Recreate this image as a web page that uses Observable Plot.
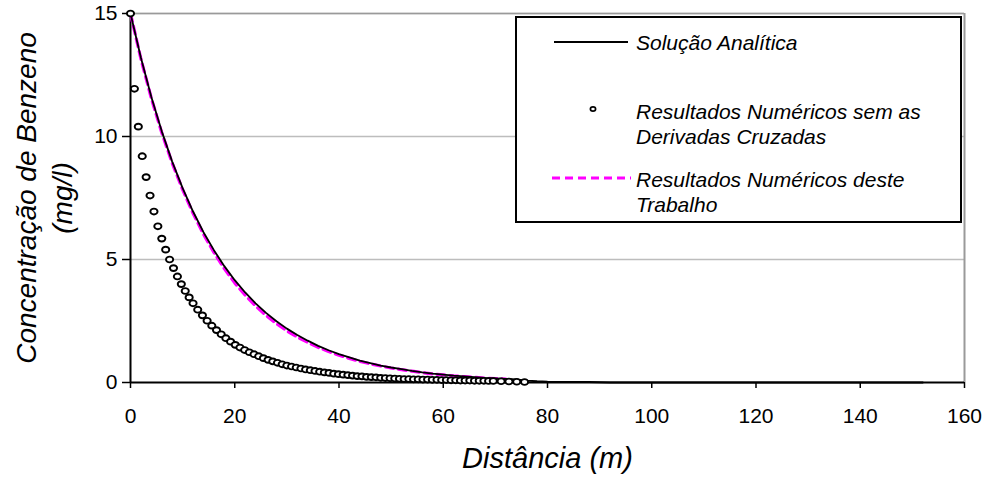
<!DOCTYPE html>
<html>
<head>
<meta charset="utf-8">
<script src="https://cdn.jsdelivr.net/npm/d3@7"></script>
<script src="https://cdn.jsdelivr.net/npm/@observablehq/plot@0.6"></script>
<style>
  html, body { margin: 0; padding: 0; background: #fff; }
  #wrap { position: relative; width: 989px; height: 477px; font-family: "Liberation Sans", Arial, sans-serif; }
  #legend { position: absolute; left: 0; top: 0; pointer-events: none; }
</style>
</head>
<body>
<div id="wrap"></div>
<script>
// ---- Data ----
const xTicks = [0, 20, 40, 60, 80, 100, 120, 140, 160];
const yTicks = [0, 5, 10, 15];

const xLabel = "Distância (m)";
const yLabel = "Concentração de Benzeno\n(mg/l)";

const seriesNames = [
  "Solução Analítica",
  "Resultados Numéricos sem as\nDerivadas Cruzadas",
  "Resultados Numéricos deste\nTrabalho"
];

// Solução Analítica (black solid line)
const distAnalitica = [0, 2, 4, 6, 8, 10, 12, 14, 16, 18, 20, 22, 24, 26, 28, 30, 32, 34, 36, 38, 40,
  42, 44, 46, 48, 50, 52, 54, 56, 58, 60, 62, 64, 66, 68, 70, 72, 74, 76, 78, 80,
  84, 88, 92, 100, 120, 140, 152];
const concAnalitica = [15, 13.20, 11.61, 10.21, 8.98, 7.90, 6.95, 6.11, 5.38, 4.73, 4.16, 3.66, 3.22, 2.83, 2.49, 2.19, 1.93, 1.70, 1.49, 1.31, 1.15,
  1.02, 0.89, 0.79, 0.69, 0.61, 0.54, 0.47, 0.41, 0.36, 0.32, 0.28, 0.25, 0.22, 0.19, 0.17, 0.15, 0.13, 0.08, 0.05, 0.03,
  0.02, 0.02, 0, 0, 0, 0, 0];

// Resultados Numéricos sem as Derivadas Cruzadas (open circles)
const distSemCruzadas = [0, 0.75, 1.5, 2.25, 3, 3.75, 4.5, 5.25, 6, 6.75, 7.5, 8.25, 9, 9.75, 10.5, 11.25, 12,
  12.9, 13.8, 14.7, 15.6, 16.5, 17.4, 18.3, 19.2, 20.1, 21.0,
  21.9, 22.8, 23.7, 24.6, 25.5, 26.4, 27.3, 28.2, 29.1, 30.0,
  30.9, 31.8, 32.7, 33.6, 34.5, 35.4, 36.3, 37.2, 38.1, 39.0,
  39.9, 40.8, 41.7, 42.6, 43.5, 44.4, 45.3, 46.2, 47.1, 48.0,
  48.9, 49.8, 50.7, 51.6, 52.5, 53.4, 54.3, 55.2, 56.1, 57.0,
  57.9, 58.8, 59.7, 60.6, 61.5, 62.4, 63.3, 64.2, 65.1, 66.0,
  66.9, 67.8, 68.7, 69.6,
  71.1, 72.6, 74.1, 75.6];
const concSemCruzadas = [15, 11.94, 10.4, 9.2, 8.35, 7.6, 6.95, 6.35, 5.85, 5.4, 5.0, 4.65, 4.31, 4.0, 3.72, 3.46, 3.22,
  2.96, 2.73, 2.51, 2.31, 2.13, 1.96, 1.80, 1.66, 1.53, 1.42,
  1.32, 1.23, 1.15, 1.07, 0.99, 0.92, 0.86, 0.80, 0.74, 0.69,
  0.65, 0.61, 0.57, 0.53, 0.50, 0.47, 0.44, 0.41, 0.39, 0.36,
  0.34, 0.32, 0.30, 0.28, 0.26, 0.25, 0.23, 0.22, 0.21, 0.19,
  0.18, 0.17, 0.16, 0.15, 0.14, 0.14, 0.13, 0.13, 0.12, 0.12,
  0.11, 0.11, 0.10, 0.10, 0.09, 0.09, 0.08, 0.08, 0.08, 0.07,
  0.07, 0.07, 0.06, 0.06,
  0.05, 0.04, 0.03, 0.02];

// Resultados Numéricos deste Trabalho (magenta dashed line)
const distTrabalho = [0, 2, 4, 6, 8, 10, 12, 14, 16, 18, 20, 22, 24, 26, 28, 30, 32, 34, 36, 38, 40,
  42, 44, 46, 48, 50, 52, 54, 56, 58, 60, 62, 64, 66, 68, 70, 72];
const concTrabalho = [15, 13.15, 11.55, 10.15, 8.92, 7.84, 6.88, 6.03, 5.29, 4.63, 4.05, 3.55, 3.11, 2.73, 2.39, 2.10, 1.85, 1.63, 1.43, 1.26, 1.11,
  0.98, 0.86, 0.76, 0.67, 0.59, 0.52, 0.46, 0.40, 0.35, 0.31, 0.27, 0.24, 0.21, 0.18, 0.16, 0.14];

// ---- Build tables ----
const analitica = distAnalitica.map((x, i) => ({x, y: concAnalitica[i]}));
const semCruzadas = distSemCruzadas.map((x, i) => ({x, y: concSemCruzadas[i]}));
const trabalho = distTrabalho.map((x, i) => ({x, y: concTrabalho[i]}));

// ellipse-shaped open marker (Excel's slightly stretched circles)
const ellipseSymbol = {
  draw(ctx) {
    const rx = 3.6, ry = 2.9, k = 0.5523;
    ctx.moveTo(rx, 0);
    ctx.bezierCurveTo(rx, k * ry, k * rx, ry, 0, ry);
    ctx.bezierCurveTo(-k * rx, ry, -rx, k * ry, -rx, 0);
    ctx.bezierCurveTo(-rx, -k * ry, -k * rx, -ry, 0, -ry);
    ctx.bezierCurveTo(k * rx, -ry, rx, -k * ry, rx, 0);
    ctx.closePath();
  }
};

const font = "'Liberation Sans', Arial, sans-serif";

const chart = Plot.plot({
  width: 989,
  height: 477,
  marginLeft: 130,
  marginRight: 25,
  marginTop: 13,
  marginBottom: 95,
  style: {fontFamily: font, color: "#000", background: "#fff", overflow: "visible"},
  x: {domain: [0, 160]},
  y: {domain: [0, 15]},
  marks: [
    Plot.ruleY(yTicks.filter(d => d > 0), {stroke: "#bdbdbd", strokeWidth: 1.5}),
    Plot.ruleX([160], {stroke: "#9a9a9a", strokeWidth: 2}),
    Plot.ruleY([15], {stroke: "#9a9a9a", strokeWidth: 1.5}),
    Plot.axisX({ticks: xTicks, tickSize: 6, tickPadding: 20, fontSize: 21, label: null, stroke: "#000", strokeWidth: 1.5, tickFormat: d => String(d)}),
    Plot.axisY({ticks: yTicks, tickSize: 8, tickPadding: 5, fontSize: 21, label: null, stroke: "#000", strokeWidth: 1.5, tickFormat: d => String(d)}),
    Plot.ruleX([0], {stroke: "#000", strokeWidth: 2}),
    Plot.ruleY([0], {stroke: "#000", strokeWidth: 2}),
    Plot.line(trabalho, {x: "x", y: "y", stroke: "#ff00ff", strokeWidth: 3.2, strokeDasharray: "8,5"}),
    Plot.line(analitica, {x: "x", y: "y", stroke: "#000", strokeWidth: 1.8}),
    Plot.dot(semCruzadas, {x: "x", y: "y", symbol: ellipseSymbol, r: 3, stroke: "#000", strokeWidth: 1.9, fill: "#fff"}),
    Plot.text([xLabel], {frameAnchor: "bottom", dy: 76, fontSize: 29, fontStyle: "italic", fill: "#000", lineAnchor: "middle", textAnchor: "middle"}),
    Plot.text([yLabel], {frameAnchor: "left", dx: -88, rotate: -90, fontSize: 28, fontStyle: "italic", fill: "#000", lineAnchor: "middle", textAnchor: "middle", lineHeight: 1.3})
  ]
});
document.getElementById("wrap").appendChild(chart);

// ---- Legend (boxed, inside plot area, top right) ----
const ns = "http://www.w3.org/2000/svg";
const leg = document.createElementNS(ns, "svg");
leg.setAttribute("id", "legend");
leg.setAttribute("width", 989);
leg.setAttribute("height", 477);
function el(tag, attrs, parent) {
  const e = document.createElementNS(ns, tag);
  for (const k in attrs) e.setAttribute(k, attrs[k]);
  (parent || leg).appendChild(e);
  return e;
}
el("rect", {x: 516, y: 17, width: 445, height: 205, fill: "#fff", stroke: "#000", "stroke-width": 2});
el("line", {x1: 554, x2: 628, y1: 42, y2: 42, stroke: "#000", "stroke-width": 2});
el("ellipse", {cx: 593, cy: 109, rx: 2.6, ry: 2.2, fill: "#fff", stroke: "#000", "stroke-width": 1.7});
el("line", {x1: 552, x2: 631, y1: 178, y2: 178, stroke: "#ff00ff", "stroke-width": 3.2, "stroke-dasharray": "8,5"});
const baselines = [[50], [119, 144], [187, 212]];
seriesNames.forEach((name, i) => {
  name.split("\n").forEach((line, j) => {
    const t = el("text", {x: 636, y: baselines[i][j], "font-size": 21, "font-style": "italic", "font-family": font, fill: "#000"});
    t.textContent = line;
  });
});
document.getElementById("wrap").appendChild(leg);
</script>
</body>
</html>
